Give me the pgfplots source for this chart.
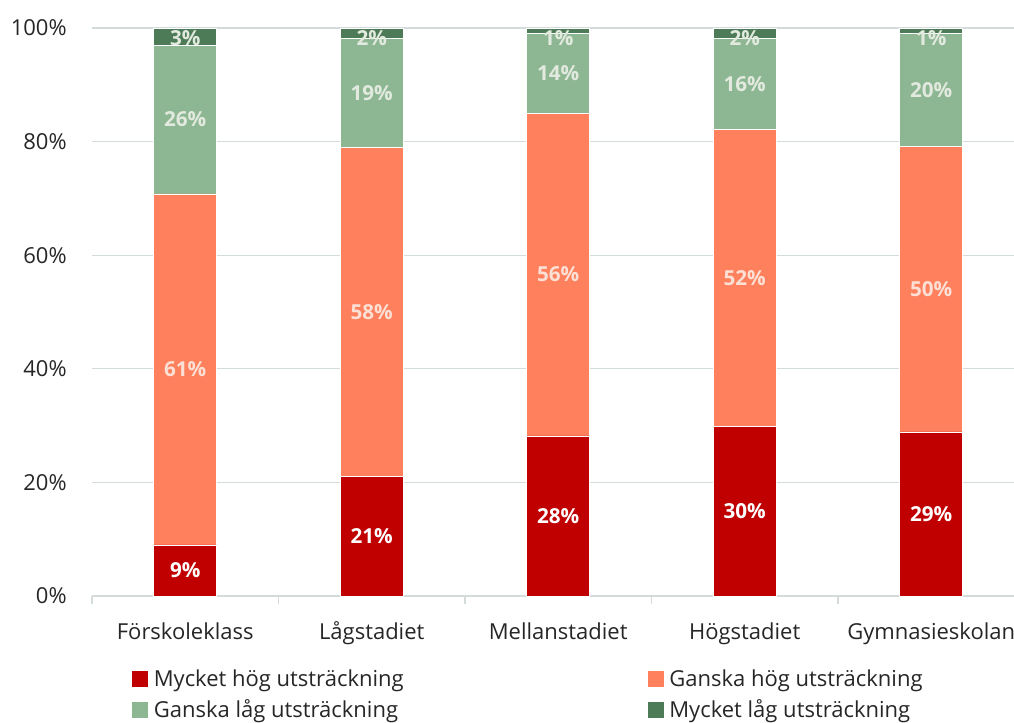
\documentclass[border=0pt]{standalone}
\usepackage{pgfplots}
\pgfplotsset{compat=1.18}
\usepackage{pgfplotstable}
\usepackage{fontspec}
\setmainfont{Open Sans}
\definecolor{cA}{HTML}{C00000}
\definecolor{cB}{HTML}{FF805C}
\definecolor{cC}{HTML}{8DB692}
\definecolor{cD}{HTML}{4E7B57}
\definecolor{gridc}{HTML}{D3DBDB}
\definecolor{txt}{HTML}{262626}
\definecolor{lbB}{HTML}{FCE0D5}
\definecolor{lbC}{HTML}{E2EADF}
\pgfplotstableread{
x a b c d la lb lc ld
0 9.0 61.8 26.2 3.0 9 61 26 3
1 21.0 58.0 19.2 1.8 21 58 19 2
2 28.2 56.8 14.1 0.9 28 56 14 1
3 29.9 52.3 16.0 1.8 30 52 16 2
4 28.9 50.2 20.0 0.9 29 50 20 1
}\data
\begin{document}
\begin{tikzpicture}
\begin{axis}[
  scale only axis, width=691.5pt, height=426pt,
  ybar stacked, bar width=47.25pt,
  xmin=-0.5, xmax=4.444, ymin=0, ymax=100,
  clip=false,
  axis x line*=bottom, axis y line*=left,
  y axis line style={draw=none},
  x axis line style={gridc, line width=1pt},
  ymajorgrids, grid style={gridc, line width=0.8pt},
  xtick={0,1,2,3,4},
  xticklabels={Förskoleklass,Lågstadiet,Mellanstadiet,Högstadiet,Gymnasieskolan},
  minor xtick={-0.5,0.5,1.5,2.5,3.5},
  major tick length=0pt, minor tick length=6pt, tick align=outside,
  xtick style={gridc, line width=1pt},
  ytick style={draw=none},
  ytick={0,20,40,60,80,100},
  yticklabels={0\%,20\%,40\%,60\%,80\%,100\%},
  tick label style={font=\fontsize{16.5}{20}\selectfont, text=txt},
  yticklabel style={anchor=east, xshift=-15.5pt},
  xticklabel style={anchor=base, yshift=-32.25pt},
  nodes near coords={\pgfplotspointmeta\%},
  point meta=explicit symbolic,
  every node near coord/.append style={font=\bfseries\fontsize{15.5}{18}\selectfont, anchor=center},
  legend columns=2,
  legend style={at={(0.0423,-0.129)}, anchor=north west, draw=none, fill=none, inner sep=0pt,
    column sep=3.75pt, row sep=8.5pt, font=\fontsize{16.5}{20}\selectfont, text=txt,
    nodes={inner sep=0pt}},
  legend cell align=left,
  legend image code/.code={\fill[#1] (0pt,-6.375pt) rectangle (12.75pt,6.375pt);},
]
\addplot[fill=cA, draw=white, line width=0.4pt,
  every node near coord/.append style={text=white}] table[x=x, y=a, meta=la] {\data};
\addlegendentry{\makebox[366pt][l]{Mycket hög utsträckning}}
\addplot[fill=cB, draw=white, line width=0.4pt,
  every node near coord/.append style={text=lbB}] table[x=x, y=b, meta=lb] {\data};
\addlegendentry{Ganska hög utsträckning}
\addplot[fill=cC, draw=white, line width=0.4pt,
  every node near coord/.append style={text=lbC}] table[x=x, y=c, meta=lc] {\data};
\addlegendentry{\makebox[366pt][l]{Ganska låg utsträckning}}
\addplot[fill=cD, draw=white, line width=0.4pt, visualization depends on={\thisrow{d} \as \rawy},
  every node near coord/.append style={text=lbC, anchor=north, inner sep=1.5pt, yshift={2.13pt*\rawy}}] table[x=x, y=d, meta=ld] {\data};
\addlegendentry{Mycket låg utsträckning}
\coordinate (SW) at (rel axis cs:0,0);
\coordinate (NE) at (rel axis cs:1,1);
\end{axis}
\pgfresetboundingbox
\path[use as bounding box] ([xshift=-69pt,yshift=-94.5pt]SW) rectangle ([yshift=21pt]NE);
\end{tikzpicture}
\end{document}
